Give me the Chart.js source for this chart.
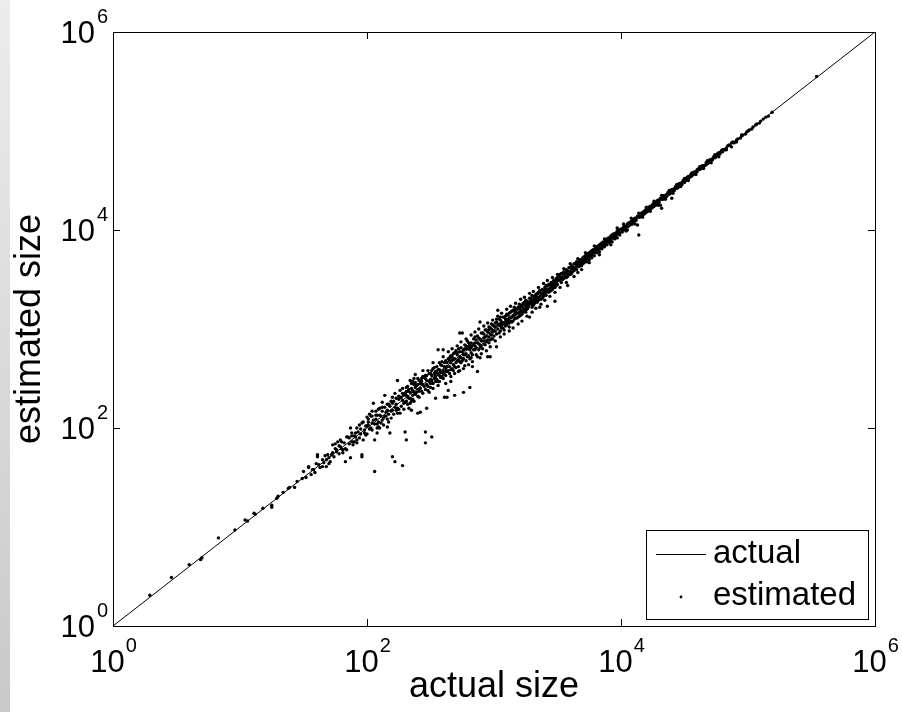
<!DOCTYPE html>
<html>
<head>
<meta charset="utf-8">
<title>actual vs estimated size</title>
<script src="https://cdn.jsdelivr.net/npm/chart.js@4/dist/chart.umd.min.js"></script>
<style>
    html, body { margin: 0; padding: 0; background: #fff; }
    #wrap { position: relative; width: 902px; height: 712px; }
    #strip {
        position: absolute; left: 0; top: 0; width: 10px; height: 712px;
        background: linear-gradient(to bottom, #ececec, #c9c9c9);
    }
    #chart { position: absolute; left: 0; top: 0; }
</style>
</head>
<body>
<div id="wrap">
    <div id="strip"></div>
    <canvas id="chart" width="902" height="712"></canvas>
</div>
<script>
// values are log10 exponents: [actual, estimated]
const tickExps = [0, 2, 4, 6];

const lowEnd = [
    [0.29,0.31],[0.46,0.49],[0.60,0.62],[0.69,0.67],[0.70,0.69],[0.83,0.89],[0.96,0.97],
    [1.04,1.07],[1.06,1.06],[1.11,1.14],[1.12,1.13],[1.18,1.19],[1.25,1.20],[1.25,1.22],
    [1.29,1.29],[1.30,1.31],[1.34,1.35],[1.38,1.39],[1.39,1.40],[1.43,1.40],[1.45,1.46],
    [1.49,1.49],[1.50,1.56]
];

const scatterZone = [
    [1.54,1.61],[1.54,1.60],[1.57,1.58],[1.58,1.58],[1.59,1.55],[1.61,1.73],[1.61,1.71],[1.62,1.63],
    [1.65,1.61],[1.65,1.68],[1.66,1.65],[1.68,1.61],[1.68,1.68],[1.69,1.73],[1.70,1.70],[1.71,1.66],
    [1.72,1.73],[1.73,1.75],[1.73,1.83],[1.75,1.84],[1.76,1.76],[1.76,1.78],[1.77,1.86],[1.78,1.74],
    [1.79,1.81],[1.79,1.88],[1.80,1.79],[1.81,1.78],[1.81,1.75],[1.83,1.66],[1.84,1.91],[1.85,1.91],
    [1.86,1.84],[1.87,2.00],[1.87,1.70],[1.88,1.86],[1.89,1.83],[1.89,1.86],[1.90,1.92],[1.91,1.95],
    [1.91,1.91],[1.92,1.88],[1.93,1.96],[1.94,2.03],[1.95,1.94],[1.96,1.73],[1.96,1.71],[1.97,1.88],
    [1.98,1.98],[1.98,1.95],[1.99,2.02],[2.00,2.11],[2.01,2.03],[2.01,2.06],[2.02,1.99],[2.04,2.05],
    [2.04,1.98],[2.05,2.25],[2.06,1.56],[2.06,1.88],[2.07,2.09],[2.08,1.95],[2.08,2.13],[2.09,2.06],
    [2.09,2.01],[2.10,2.00],[2.10,2.20],[2.11,2.12],[2.12,2.26],[2.13,2.03],[2.13,2.10],[2.14,2.33],
    [2.15,2.16],[2.16,2.01],[2.16,2.18],[2.17,2.06],[2.18,1.95],[2.18,2.22],[2.19,2.17],[2.20,1.71],
    [2.20,2.25],[2.21,2.14],[2.22,2.35],[2.22,1.66],[2.23,2.24],[2.24,2.20],[2.24,2.48],[2.25,2.29],
    [2.26,2.38],[2.26,2.15],[2.27,2.22],[2.28,2.28],[2.28,1.62],[2.29,2.33],[2.30,1.96],[2.30,2.26],
    [2.31,2.41],[2.31,1.88],[2.32,2.31],[2.33,2.20],[2.34,2.48],[2.34,2.36],[2.35,2.18],[2.36,2.38],
    [2.36,2.29],[2.37,2.44],[2.38,2.54],[2.38,2.34],[2.39,2.43],[2.40,2.15],[2.40,2.39],[2.41,2.48],
    [2.42,2.16],[2.42,2.45],[2.43,2.37],[2.44,2.52],[2.45,2.42],[2.46,1.85],[2.46,1.96],[2.46,2.50],
    [2.47,2.20],[2.47,2.44],[2.48,2.58],[2.49,2.47],[2.50,2.41],[2.51,1.91],[2.50,2.55],
    [1.52,1.50],[1.56,1.53],[1.60,1.64],[1.63,1.60],[1.67,1.72],[1.70,1.64],[1.74,1.71],[1.75,1.79],
    [1.78,1.82],[1.82,1.85],[1.83,1.79],[1.86,1.90],[1.88,1.95],[1.90,1.86],[1.92,2.00],[1.94,1.90],
    [1.95,1.99],[1.97,2.06],[1.99,1.93],[2.00,2.02],[2.02,2.14],[2.03,2.00],[2.05,2.08],[2.07,2.17],
    [2.08,2.04],[2.10,2.13],[2.12,2.08],[2.14,2.21],[2.15,2.12],[2.17,2.24],[2.19,2.10],[2.21,2.27],
    [2.23,2.18],[2.25,2.32],[2.27,2.31],[2.29,2.19],[2.31,2.37],[2.33,2.39],[2.35,2.27],[2.37,2.50],
    [2.01,2.09],[2.03,2.12],[2.04,2.17],[2.06,2.04],[2.07,2.13],[2.09,2.19],[2.11,2.05],[2.12,2.17],
    [2.14,2.12],[2.16,2.24],[2.17,2.14],[2.19,2.27],[2.20,2.18],[2.22,2.21],[2.23,2.30],[2.25,2.19],
    [2.26,2.31],[2.28,2.35],[2.29,2.25],[2.31,2.33],[2.32,2.37],[2.34,2.30],[2.35,2.40],[2.37,2.36],
    [2.38,2.46],[2.40,2.44],[2.41,2.37],[2.43,2.50],[2.44,2.44],[2.46,2.53],[2.47,2.48],[2.49,2.55],
    [1.80,1.86],[1.84,1.78],[1.88,1.92],[1.92,1.85],[1.96,2.05],[2.00,1.94],[2.04,2.12],[2.08,2.00],
    [2.12,2.21],[2.16,2.09],[2.20,2.31],[2.24,2.15],[2.28,2.40],[2.32,2.24],[2.36,2.47],[2.40,2.32],
    [2.44,2.58],[2.48,2.38],[2.52,2.66],[2.56,2.47]
];

const midBand = [
    [2.51,2.53],[2.52,2.45],[2.52,2.60],[2.53,2.50],[2.54,2.30],[2.54,2.57],[2.55,2.49],[2.55,2.62],
    [2.56,2.79],[2.56,2.54],[2.57,2.47],[2.57,2.66],[2.58,2.56],[2.59,2.52],[2.59,2.63],[2.60,2.79],
    [2.60,2.58],[2.61,2.31],[2.61,2.54],[2.62,2.68],[2.62,2.60],[2.63,2.31],[2.63,2.57],[2.64,2.38],
    [2.64,2.70],[2.65,2.62],[2.65,2.55],[2.66,2.73],[2.66,2.66],[2.67,2.60],[2.68,2.75],[2.68,2.64],
    [2.69,2.33],[2.69,2.70],[2.70,2.61],[2.70,2.78],[2.71,2.68],[2.72,2.62],[2.72,2.80],[2.73,2.96],
    [2.73,2.72],[2.74,2.66],[2.75,2.96],[2.75,2.77],[2.76,2.36],[2.76,2.70],[2.77,2.84],[2.77,2.74],
    [2.78,2.68],[2.79,2.80],[2.79,2.88],[2.80,2.73],[2.81,2.41],[2.81,2.79],[2.82,2.86],[2.82,2.76],
    [2.83,2.62],[2.83,2.83],[2.84,2.90],[2.85,2.79],[2.85,2.86],[2.86,2.81],[2.87,2.57],[2.87,2.93],
    [2.88,2.85],[2.89,3.07],[2.89,2.71],[2.89,2.90],[2.90,2.83],[2.91,2.96],[2.91,2.88],[2.92,2.85],
    [2.93,2.99],[2.93,2.92],[2.94,2.87],[2.95,2.72],[2.95,2.97],[2.96,3.02],[2.96,2.92],[2.97,2.72],
    [2.97,2.95],[2.98,3.05],[2.98,2.90],[2.99,2.97],[3.00,3.03],[3.00,2.93],
    [2.30,2.35],[2.31,2.27],[2.32,2.42],[2.33,2.30],[2.34,2.25],[2.35,2.45],[2.36,2.33],[2.37,2.27],
    [2.38,2.41],[2.39,2.36],[2.40,2.50],[2.41,2.31],[2.42,2.40],[2.43,2.47],[2.44,2.35],[2.45,2.51],
    [2.46,2.39],[2.47,2.53],[2.48,2.42],[2.49,2.36],[2.50,2.49],[2.51,2.58],[2.52,2.40],[2.53,2.55],
    [2.54,2.47],[2.55,2.56],[2.56,2.43],[2.57,2.59],[2.58,2.51],[2.59,2.67],[2.60,2.50],[2.61,2.62],
    [2.62,2.53],[2.63,2.66],[2.64,2.58],[2.65,2.71],[2.66,2.52],[2.67,2.69],[2.68,2.58],[2.69,2.76],
    [2.70,2.66],[2.71,2.74],[2.72,2.57],[2.73,2.67],[2.74,2.81],[2.75,2.68],[2.76,2.79],[2.77,2.63],
    [2.78,2.83],[2.79,2.72],[2.80,2.86],[2.81,2.70],[2.82,2.81],[2.83,2.74],[2.84,2.79],[2.85,2.92],
    [2.86,2.74],[2.87,2.86],[2.88,2.79],[2.89,2.84],[2.90,2.96],[2.91,2.80],[2.92,2.91],[2.93,2.84],
    [2.94,2.99],[2.95,2.89],[2.96,2.86],[2.97,3.01],[2.98,2.94],[2.99,2.90],[3.00,2.98],
    [2.50,2.45],[2.51,2.48],[2.53,2.61],[2.54,2.52],[2.56,2.59],[2.57,2.53],[2.58,2.64],[2.60,2.55],
    [2.61,2.66],[2.62,2.57],[2.63,2.62],[2.65,2.68],[2.66,2.59],[2.67,2.72],[2.68,2.69],[2.69,2.62],
    [2.71,2.76],[2.72,2.69],[2.73,2.77],[2.74,2.71],[2.76,2.74],[2.77,2.80],[2.78,2.75],[2.80,2.82],
    [2.81,2.84],[2.82,2.71],[2.84,2.85],[2.85,2.83],[2.86,2.89],[2.88,2.91],[2.89,2.81],[2.90,2.88],
    [2.92,2.95],[2.93,2.88],[2.94,2.93],[2.96,2.99],[2.97,2.89],[2.98,3.00],[2.99,3.04],
    [2.60,2.72],[2.62,2.45],[2.64,2.77],[2.66,2.47],[2.67,2.80],[2.69,2.55],[2.71,2.83],[2.73,2.58],
    [2.74,2.87],[2.76,2.60],[2.78,2.90],[2.80,2.64],[2.82,2.94],[2.83,2.67],[2.85,2.97],[2.87,2.72],
    [2.88,3.00],[2.90,2.75],[2.92,3.03],[2.94,2.78],[2.95,3.06],[2.97,2.82],[2.99,3.09]
];

const upperBand = [
    [3.01,2.98],[3.02,2.82],[3.02,3.07],[3.03,3.19],[3.03,3.00],[3.04,2.96],[3.05,3.09],[3.05,3.03],
    [3.06,3.01],[3.07,3.12],[3.07,3.05],[3.08,2.99],[3.09,3.10],[3.09,3.06],[3.10,3.15],[3.10,3.04],
    [3.11,3.09],[3.12,3.02],[3.12,3.16],[3.13,3.11],[3.14,3.07],[3.14,3.18],[3.15,3.13],[3.16,3.10],
    [3.16,3.22],[3.17,3.15],[3.18,3.11],[3.18,3.20],[3.19,3.16],[3.20,3.13],[3.20,3.25],[3.21,3.19],
    [3.22,3.15],[3.23,3.26],[3.23,3.21],[3.24,3.18],[3.25,3.29],[3.25,3.23],[3.26,3.20],[3.27,3.27],
    [3.28,3.12],[3.28,3.31],[3.29,3.26],[3.30,3.24],[3.30,3.34],[3.31,3.29],[3.32,3.26],[3.33,3.35],
    [3.33,3.30],[3.34,3.27],[3.35,3.37],[3.36,3.22],[3.36,3.33],[3.37,3.30],[3.38,3.40],[3.38,3.35],
    [3.39,3.33],[3.40,3.42],[3.41,3.37],[3.41,3.34],[3.42,3.23],[3.42,3.44],[3.43,3.40],[3.44,3.38],
    [3.45,3.47],[3.45,3.43],[3.46,3.40],[3.47,3.49],[3.47,3.44],[3.48,3.28],[3.48,3.42],[3.49,3.51],
    [3.49,3.47],[3.50,3.45],
    [3.51,3.49],[3.51,3.54],[3.52,3.50],[3.53,3.47],[3.53,3.56],[3.54,3.52],[3.55,3.51],[3.55,3.58],
    [3.56,3.54],[3.57,3.52],[3.57,3.60],[3.58,3.44],[3.58,3.56],[3.59,3.55],[3.59,3.62],[3.60,3.58],
    [3.61,3.56],[3.61,3.64],[3.62,3.60],[3.63,3.59],[3.63,3.66],[3.64,3.62],[3.65,3.60],[3.65,3.68],
    [3.66,3.57],[3.66,3.65],[3.67,3.63],[3.68,3.70],[3.68,3.66],[3.69,3.64],[3.70,3.72],[3.70,3.68],
    [3.71,3.67],[3.72,3.74],[3.72,3.70],[3.73,3.68],[3.74,3.76],[3.74,3.72],[3.75,3.70],[3.76,3.78],
    [3.76,3.74],[3.77,3.72],[3.78,3.80],[3.78,3.77],[3.79,3.74],[3.80,3.82],[3.80,3.78],[3.81,3.77],
    [3.82,3.84],[3.82,3.80],[3.83,3.78],[3.84,3.86],[3.84,3.82],[3.85,3.81],[3.86,3.88],[3.86,3.84],
    [3.87,3.83],[3.88,3.89],[3.88,3.86],[3.89,3.85],[3.90,3.92],[3.90,3.88],[3.91,3.87],[3.92,3.94],
    [3.92,3.90],[3.93,3.88],[3.94,3.96],[3.94,3.92],[3.95,3.91],[3.96,3.97],[3.96,3.94],[3.97,3.92],
    [3.98,4.00],[3.98,3.96],[3.99,3.95],[4.00,4.01],
    [3.01,3.06],[3.02,2.95],[3.03,3.04],[3.04,3.10],[3.05,2.98],[3.06,3.07],[3.07,3.01],[3.08,3.12],
    [3.09,3.03],[3.10,3.08],[3.11,3.14],[3.12,3.06],[3.13,3.17],[3.14,3.12],[3.15,3.08],[3.16,3.18],
    [3.17,3.11],[3.18,3.16],[3.19,3.22],[3.20,3.17],[3.21,3.14],[3.22,3.24],[3.23,3.17],[3.24,3.27],
    [3.25,3.20],[3.26,3.25],[3.27,3.22],[3.28,3.26],[3.29,3.31],[3.30,3.27],[3.31,3.24],[3.32,3.33],
    [3.33,3.28],[3.34,3.36],[3.35,3.31],[3.36,3.37],[3.37,3.34],[3.38,3.31],[3.39,3.39],[3.40,3.36],
    [3.41,3.40],[3.42,3.38],[3.43,3.45],[3.44,3.41],[3.45,3.39],[3.46,3.46],[3.47,3.42],[3.48,3.48],
    [3.49,3.44],[3.50,3.52],[3.52,3.55],[3.54,3.50],[3.56,3.57],[3.58,3.53],[3.60,3.62],[3.62,3.58],
    [3.63,3.62],[3.64,3.66],[3.66,3.63],[3.67,3.68],[3.69,3.67],[3.70,3.70],[3.71,3.73],[3.73,3.71],
    [3.74,3.74],[3.75,3.77],[3.77,3.75],[3.78,3.78],[3.79,3.80],[3.81,3.80],[3.82,3.82],[3.83,3.85],
    [3.85,3.84],[3.86,3.86],[3.87,3.88],[3.89,3.88],[3.90,3.90],[3.91,3.92],[3.93,3.92],[3.94,3.94],
    [3.95,3.96],[3.97,3.96],[3.98,3.98],[3.99,4.00],
    [3.01,3.02],[3.02,3.10],[3.04,3.05],[3.05,3.12],[3.06,3.04],[3.08,3.06],[3.09,3.13],[3.11,3.06],
    [3.12,3.11],[3.13,3.08],[3.15,3.19],[3.16,3.14],[3.17,3.20],[3.19,3.12],[3.20,3.21],[3.21,3.23],
    [3.22,3.18],[3.24,3.25],[3.25,3.17],[3.26,3.28],[3.27,3.24],[3.29,3.29],[3.30,3.22],[3.31,3.33],
    [3.32,3.30],[3.34,3.32],[3.35,3.29],[3.36,3.39],[3.37,3.36],[3.39,3.36],[3.40,3.39],[3.41,3.44],
    [3.43,3.37],[3.44,3.45],[3.45,3.45],[3.46,3.43],[3.48,3.46],[3.49,3.49],
    [3.50,3.49],[3.52,3.53],[3.53,3.52],[3.54,3.56],[3.56,3.52],[3.57,3.57],[3.58,3.59],[3.60,3.55],
    [3.61,3.61],[3.62,3.63],[3.64,3.60],[3.65,3.65],[3.66,3.67],[3.68,3.64],[3.69,3.70],[3.70,3.66],
    [3.72,3.72],[3.73,3.74],[3.75,3.73],[3.76,3.76],[3.77,3.79],[3.79,3.77],[3.80,3.80],[3.81,3.83],
    [3.83,3.81],[3.84,3.84],[3.85,3.87],[3.87,3.85],[3.88,3.88],[3.89,3.91],[3.91,3.89],[3.92,3.92],
    [3.93,3.95],[3.95,3.93],[3.96,3.96],[3.97,3.99],[3.99,3.97],
    [3.01,2.88],[3.03,3.13],[3.05,2.92],[3.06,3.16],[3.08,2.95],[3.10,3.20],[3.12,2.98],[3.13,3.23],
    [3.15,3.01],[3.17,3.26],[3.19,3.05],[3.21,3.30],[3.22,3.08],[3.24,3.32],[3.26,3.13],[3.28,3.36],
    [3.30,3.17],[3.31,3.38],[3.33,3.21],[3.35,3.42],[3.37,3.25],[3.39,3.46],[3.40,3.29],[3.42,3.49],
    [3.44,3.33],[3.46,3.52],[3.48,3.37],[3.50,3.55],[3.52,3.42],[3.55,3.61],[3.57,3.47],[3.60,3.66],
    [3.63,3.53],[3.66,3.71],[3.69,3.60],[3.72,3.77],[3.75,3.67],[3.79,3.84],[3.83,3.75],[3.87,3.91],
    [3.92,3.85],[3.97,4.02]
];

const topBand = [
    [4.01,3.98],[4.02,4.03],[4.03,4.01],[4.04,3.99],[4.05,4.06],[4.06,4.04],[4.07,4.05],[4.08,4.09],
    [4.09,4.06],[4.10,4.11],[4.11,4.09],[4.12,4.10],[4.13,4.05],[4.13,4.14],[4.14,3.95],[4.15,4.13],
    [4.16,4.17],[4.17,4.15],[4.18,4.16],[4.19,4.20],[4.20,4.18],[4.21,4.19],[4.22,4.23],[4.23,4.21],
    [4.24,4.22],[4.25,4.26],[4.26,4.24],[4.27,4.25],[4.28,4.29],[4.29,4.27],[4.30,4.28],[4.31,4.25],
    [4.31,4.32],[4.32,4.22],[4.33,4.31],[4.34,4.35],[4.35,4.33],[4.36,4.34],[4.37,4.38],[4.38,4.36],
    [4.39,4.37],[4.40,4.32],[4.40,4.41],[4.41,4.39],[4.42,4.40],[4.43,4.44],[4.44,4.42],[4.45,4.43],
    [4.46,4.47],[4.47,4.45],[4.48,4.46],[4.49,4.50],[4.50,4.48],
    [4.51,4.50],[4.52,4.53],[4.53,4.52],[4.54,4.53],[4.55,4.56],[4.56,4.55],[4.57,4.56],[4.58,4.59],
    [4.59,4.58],[4.60,4.59],[4.61,4.62],[4.62,4.61],[4.63,4.62],[4.64,4.65],[4.65,4.64],[4.66,4.65],
    [4.67,4.68],[4.68,4.67],[4.69,4.68],[4.70,4.71],[4.71,4.70],[4.72,4.71],[4.73,4.74],[4.74,4.73],
    [4.75,4.74],[4.76,4.77],[4.77,4.76],[4.78,4.77],[4.79,4.80],[4.80,4.79],[4.82,4.81],[4.84,4.85],
    [4.86,4.85],[4.87,4.84],[4.88,4.89],[4.90,4.89],[4.92,4.92],[4.94,4.93],[4.96,4.96],[4.98,4.97],
    [5.00,5.00],[5.03,5.02],[5.06,5.06],[5.09,5.08],[5.12,5.12],[5.16,5.15],[5.19,5.19],[5.54,5.55],
    [4.01,4.01],[4.02,4.00],[4.03,4.04],[4.04,4.03],[4.05,4.03],[4.06,4.07],[4.07,4.07],[4.08,4.06],
    [4.09,4.10],[4.10,4.08],[4.11,4.12],[4.12,4.12],[4.14,4.13],[4.15,4.16],[4.16,4.14],[4.17,4.18],
    [4.18,4.18],[4.19,4.17],[4.20,4.21],[4.21,4.21],[4.22,4.20],[4.23,4.24],[4.24,4.24],[4.25,4.23],
    [4.26,4.27],[4.27,4.27],[4.28,4.26],[4.29,4.30],[4.30,4.30],[4.32,4.31],[4.33,4.34],[4.35,4.35],
    [4.36,4.36],[4.38,4.38],[4.39,4.40],[4.41,4.41],[4.42,4.42],[4.44,4.44],[4.45,4.46],[4.47,4.47],
    [4.48,4.48],[4.50,4.50],
    [4.51,4.52],[4.53,4.54],[4.55,4.54],[4.56,4.57],[4.58,4.57],[4.60,4.61],[4.62,4.62],[4.63,4.64],
    [4.65,4.65],[4.67,4.66],[4.68,4.69],[4.70,4.70],[4.72,4.72],[4.74,4.75],[4.75,4.75],[4.77,4.78],
    [4.78,4.78],[4.81,4.81],[4.83,4.83],[4.85,4.86],[4.89,4.88],[4.91,4.91],[4.95,4.95],[4.99,4.99],
    [5.04,5.04],[5.10,5.10],[5.14,5.14],
    [4.02,4.06],[4.05,4.00],[4.08,4.12],[4.11,4.06],[4.14,4.17],[4.17,4.13],[4.20,4.23],[4.23,4.19],
    [4.26,4.29],[4.29,4.25],[4.32,4.35],[4.35,4.31],[4.38,4.40],[4.41,4.37],[4.44,4.46],[4.47,4.44],
    [4.50,4.52],[4.53,4.50],[4.56,4.58],[4.59,4.56],[4.62,4.64],[4.65,4.62],[4.68,4.70],[4.71,4.68],
    [4.74,4.76],[4.77,4.74],[4.80,4.81],[4.83,4.81],[4.87,4.88],[4.91,4.89],[4.95,4.96],[5.01,5.01],
    [5.07,5.07]
];

const actualLine = [[0, 0], [6, 6]];

const toXY = ([a, e]) => ({ x: 10 ** a, y: 10 ** e });
const estimatedPoints = [...lowEnd, ...scatterZone, ...midBand, ...upperBand, ...topBand].map(toXY);

const TICK_FONT = 'px "Liberation Sans", Arial, sans-serif';

// frame, inward ticks, 10^n labels and the boxed legend
const decorPlugin = {
    id: 'decor',
    afterDraw(chart) {
        const { ctx, chartArea: a, scales: { x, y } } = chart;
        ctx.save();
        ctx.strokeStyle = '#000';
        ctx.lineWidth = 1;
        ctx.strokeRect(a.left + 0.5, a.top + 0.5, a.right - a.left, a.bottom - a.top);

        ctx.beginPath();
        tickExps.forEach(e => {
            const px = Math.round(x.getPixelForValue(10 ** e)) + 0.5;
            const py = Math.round(y.getPixelForValue(10 ** e)) + 0.5;
            ctx.moveTo(px, a.bottom); ctx.lineTo(px, a.bottom - 7);
            ctx.moveTo(px, a.top); ctx.lineTo(px, a.top + 7);
            ctx.moveTo(a.left, py); ctx.lineTo(a.left + 7, py);
            ctx.moveTo(a.right, py); ctx.lineTo(a.right - 7, py);
        });
        ctx.stroke();

        ctx.fillStyle = '#000';
        ctx.textBaseline = 'alphabetic';
        const big = '31' + TICK_FONT, small = '20' + TICK_FONT;
        tickExps.forEach(e => {
            ctx.font = big;
            const wb = ctx.measureText('10').width;
            ctx.font = small;
            const ws = ctx.measureText(String(e)).width;

            // x axis label, centred on the tick
            const px = x.getPixelForValue(10 ** e);
            const sx = px - (wb + ws) / 2;
            ctx.font = big;
            ctx.textAlign = 'left';
            ctx.fillText('10', sx, a.bottom + 46);
            ctx.font = small;
            ctx.fillText(String(e), sx + wb + 1, a.bottom + 26);

            // y axis label, right aligned to the frame
            const py = y.getPixelForValue(10 ** e);
            const rx = a.left - 5;
            ctx.font = small;
            ctx.fillText(String(e), rx - ws, py - 9);
            ctx.font = big;
            ctx.fillText('10', rx - ws - wb - 2, py + 11);
        });

        // legend box
        const bx = a.right - 229, by = a.bottom - 96, bw = 222, bh = 89;
        ctx.strokeRect(bx + 0.5, by + 0.5, bw, bh);
        ctx.beginPath();
        ctx.moveTo(bx + 10, by + 24.5);
        ctx.lineTo(bx + 60, by + 24.5);
        ctx.stroke();
        ctx.beginPath();
        ctx.arc(bx + 35, by + 67, 1.4, 0, Math.PI * 2);
        ctx.fill();
        ctx.font = '33' + TICK_FONT;
        ctx.textBaseline = 'middle';
        ctx.fillText('actual', bx + 67, by + 24);
        ctx.fillText('estimated', bx + 67, by + 66);
        ctx.restore();
    }
};

const axisFont = { family: '"Liberation Sans", Arial, sans-serif', size: 36 };

new Chart(document.getElementById('chart'), {
    type: 'scatter',
    data: {
        datasets: [
            {
                label: 'actual',
                type: 'line',
                data: actualLine.map(toXY),
                borderColor: '#000',
                borderWidth: 1,
                pointRadius: 0,
                fill: false
            },
            {
                label: 'estimated',
                data: estimatedPoints,
                backgroundColor: '#000',
                borderWidth: 0,
                pointRadius: 1.7
            }
        ]
    },
    options: {
        responsive: false,
        devicePixelRatio: 1,
        animation: false,
        layout: { padding: { top: 32, right: 27, left: 0, bottom: 0 } },
        plugins: {
            legend: { display: false },
            tooltip: { enabled: false }
        },
        scales: {
            x: {
                type: 'logarithmic',
                min: 1,
                max: 1e6,
                grid: { display: false },
                border: { display: false },
                ticks: { display: false },
                afterBuildTicks: s => { s.ticks = tickExps.map(e => ({ value: 10 ** e })); },
                afterFit: s => { s.height = 86; },
                title: {
                    display: true,
                    text: 'actual size',
                    color: '#000',
                    font: axisFont,
                    padding: { top: 0, bottom: 3 }
                }
            },
            y: {
                type: 'logarithmic',
                min: 1,
                max: 1e6,
                grid: { display: false },
                border: { display: false },
                ticks: { display: false },
                afterBuildTicks: s => { s.ticks = tickExps.map(e => ({ value: 10 ** e })); },
                afterFit: s => { s.width = 113; },
                title: {
                    display: true,
                    text: 'estimated size',
                    color: '#000',
                    font: axisFont,
                    padding: { top: 8, bottom: 0 }
                }
            }
        }
    },
    plugins: [decorPlugin]
});
</script>
</body>
</html>
